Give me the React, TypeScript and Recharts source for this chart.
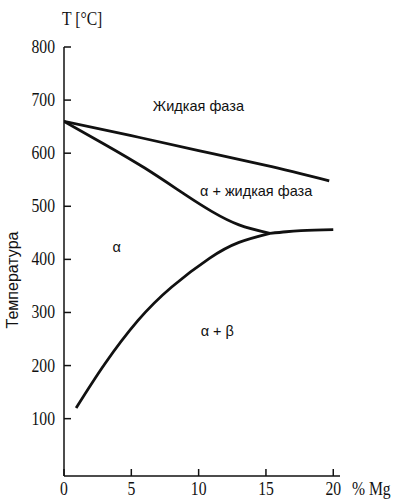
import React from 'react';
import { LineChart, Line, XAxis, YAxis, ReferenceDot, Label } from 'recharts';

// Mg content, % (x) and temperature, °C (t)
const xTicks = [0, 5, 10, 15, 20];
const yTicks = [100, 200, 300, 400, 500, 600, 700, 800];

const liquidus = [
  { x: 0, t: 660 },
  { x: 5, t: 633 },
  { x: 10, t: 605 },
  { x: 15, t: 577 },
  { x: 19.7, t: 548 },
];

const solidus = [
  { x: 0, t: 660 },
  { x: 3, t: 617 },
  { x: 6, t: 572 },
  { x: 9, t: 522 },
  { x: 11, t: 490 },
  { x: 13, t: 465 },
  { x: 15.3, t: 449 },
];

const solvus = [
  { x: 0.9, t: 120 },
  { x: 3, t: 202 },
  { x: 5.5, t: 285 },
  { x: 8, t: 348 },
  { x: 10.8, t: 402 },
  { x: 13, t: 432 },
  { x: 15.3, t: 449 },
];

const eutecticLine = [
  { x: 15.3, t: 449 },
  { x: 16.5, t: 452 },
  { x: 17.6, t: 454 },
  { x: 20, t: 456 },
];

const regionLabels = ['Жидкая фаза', 'α + жидкая фаза', 'α', 'α + β'];
const regionX = [6.6, 10.1, 3.6, 10.15];
const regionT = [679, 519, 414, 256];

const INK = '#111';
const SERIF = '"Liberation Serif", "DejaVu Serif", serif';
const SANS = '"Liberation Sans", Arial, sans-serif';

const XTick = (props: any) => {
  const { x, y, payload } = props;
  return (
    <g>
      <line x1={x} x2={x} y1={y} y2={y - 7} stroke={INK} strokeWidth={1.5} />
      <text
        transform={`translate(${x},${y + 19}) scale(0.87,1)`}
        textAnchor="middle"
        fontFamily={SERIF}
        fontSize={18}
        fill={INK}
      >
        {payload.value}
      </text>
    </g>
  );
};

const YTick = (props: any) => {
  const { x, y, payload } = props;
  return (
    <g>
      <line x1={x} x2={x + 7} y1={y} y2={y} stroke={INK} strokeWidth={1.5} />
      <text
        transform={`translate(${x - 9},${y + 6}) scale(0.87,1)`}
        textAnchor="end"
        fontFamily={SERIF}
        fontSize={18}
        fill={INK}
      >
        {payload.value}
      </text>
    </g>
  );
};

const curveProps = {
  dataKey: 't',
  stroke: INK,
  strokeWidth: 2.8,
  dot: false,
  activeDot: false,
  isAnimationActive: false,
} as const;

export default function App() {
  return (
    <div style={{ position: 'absolute', left: 0, top: 0, background: '#fff' }}>
      <LineChart
        width={394}
        height={499}
        margin={{ top: 47, right: 54, bottom: 0, left: 4 }}
      >
        <XAxis
          dataKey="x"
          type="number"
          domain={[0, 20.5]}
          ticks={xTicks}
          interval={0}
          allowDataOverflow
          height={23}
          tickSize={0}
          tickMargin={0}
          tickLine={false}
          axisLine={{ stroke: INK, strokeWidth: 1.5 }}
          tick={<XTick />}
        >
          <Label
            content={(p: any) => {
              const vb = p.viewBox || {};
              return (
                <text
                  transform={`translate(${vb.x + vb.width + 12},${vb.y + 19}) scale(0.87,1)`}
                  fontFamily={SERIF}
                  fontSize={18}
                  fill={INK}
                >
                  % Mg
                </text>
              );
            }}
          />
        </XAxis>
        <YAxis
          type="number"
          domain={[-8, 800]}
          ticks={yTicks}
          interval={0}
          allowDataOverflow
          width={60}
          tickSize={0}
          tickMargin={0}
          tickLine={false}
          axisLine={{ stroke: INK, strokeWidth: 1.5 }}
          tick={<YTick />}
        >
          <Label
            content={(p: any) => {
              const vb = p.viewBox || {};
              return (
                <g>
                  <text
                    transform={`translate(${vb.x + vb.width - 2},${vb.y - 22}) scale(0.87,1)`}
                    fontFamily={SERIF}
                    fontSize={18}
                    fill={INK}
                  >
                    T [°C]
                  </text>
                  <text
                    transform={`translate(${vb.x + 14},${vb.y + 233}) rotate(-90)`}
                    textAnchor="middle"
                    fontFamily={SANS}
                    fontSize={16}
                    fill={INK}
                  >
                    Температура
                  </text>
                </g>
              );
            }}
          />
        </YAxis>
        <Line data={liquidus} type="natural" {...curveProps} />
        <Line data={solidus} type="natural" {...curveProps} />
        <Line data={solvus} type="natural" {...curveProps} />
        <Line data={eutecticLine} type="monotone" {...curveProps} />
        {regionLabels.map((txt, i) => (
          <ReferenceDot
            key={txt}
            x={regionX[i]}
            y={regionT[i]}
            r={0}
            shape={(p: any) => (
              <text
                x={p.cx}
                y={p.cy}
                fontFamily={SANS}
                fontSize={14.5}
                fill={INK}
              >
                {txt}
              </text>
            )}
          />
        ))}
      </LineChart>
    </div>
  );
}
